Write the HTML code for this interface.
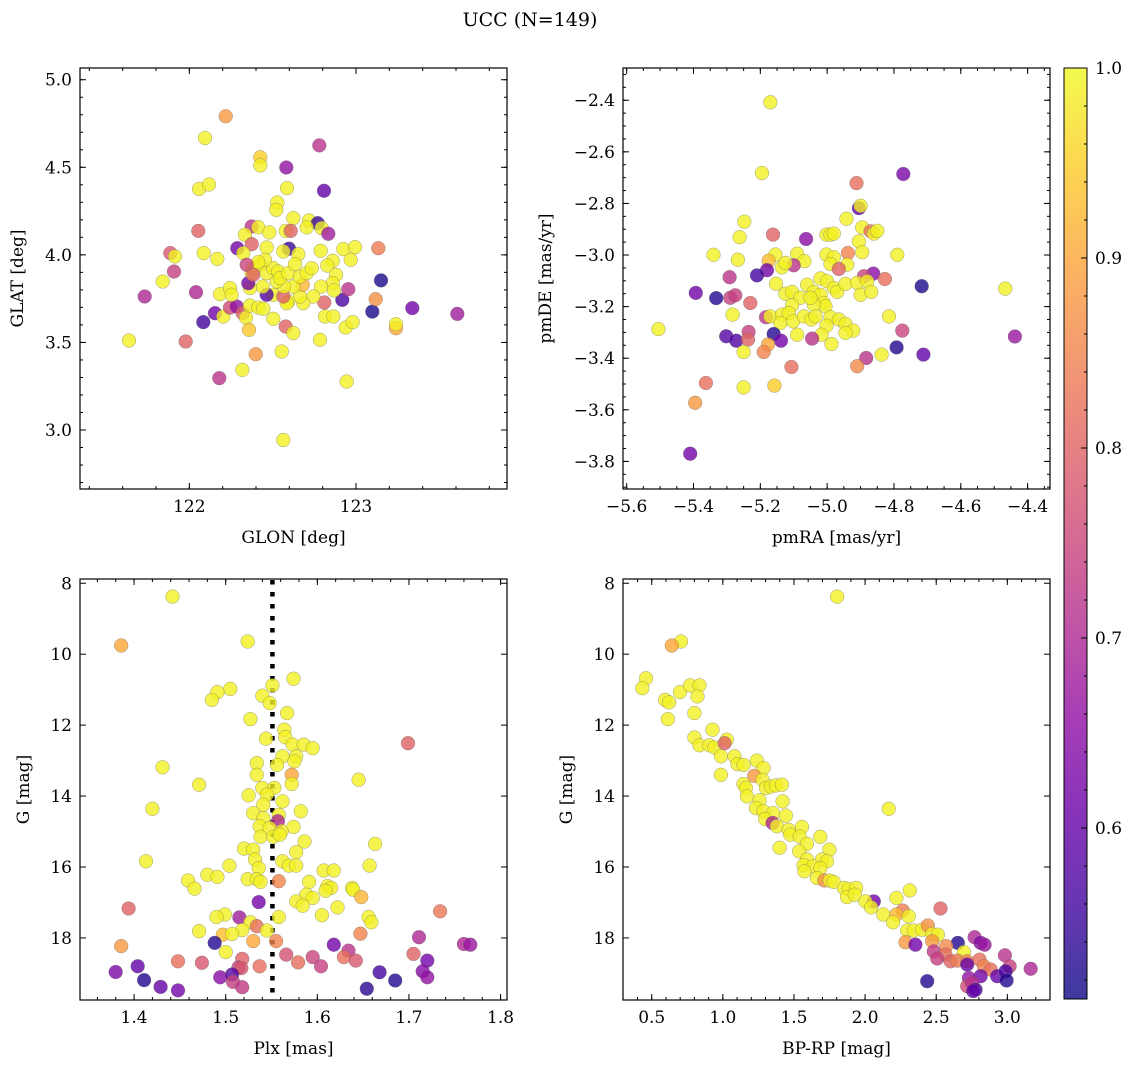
<!DOCTYPE html>
<html><head><meta charset="utf-8">
<style>
html,body{margin:0;padding:0;background:#fff;}
svg{display:block;font-family:"DejaVu Serif","Liberation Serif",serif;}
</style></head>
<body>
<svg id="fig" width="1136" height="1067" viewBox="0 0 1136 1067" xmlns="http://www.w3.org/2000/svg">
<defs>
<linearGradient id="plasma" x1="0" y1="1" x2="0" y2="0">
<stop offset="0" stop-color="#0d0887"/><stop offset="0.1" stop-color="#41049d"/><stop offset="0.2" stop-color="#6a00a8"/><stop offset="0.3" stop-color="#8f0da4"/><stop offset="0.4" stop-color="#b12a90"/><stop offset="0.5" stop-color="#cc4778"/><stop offset="0.6" stop-color="#e16462"/><stop offset="0.7" stop-color="#f2844b"/><stop offset="0.8" stop-color="#fca636"/><stop offset="0.9" stop-color="#fcce25"/><stop offset="1" stop-color="#f0f921"/>
</linearGradient>
</defs>
<text x="530" y="26" font-size="19" text-anchor="middle">UCC (N=149)</text>
</svg>
<script>
// Panel 1: GLON / GLAT
const p1Lon=[122.218,122.094,122.780,122.426,122.426,122.582,122.058,122.118,122.586,122.808,122.528,122.522,122.624,122.718,122.770,122.794,122.834,122.704,122.374,122.414,122.48,122.578,122.608,122.334,122.374,122.288,122.324,122.464,122.598,122.564,122.654,122.788,122.924,122.994,123.134,122.054,121.886,121.914,122.086,122.168,121.908,121.84,121.732,122.04,121.638,121.978,122.084,122.154,122.204,122.244,122.284,122.32,122.34,122.358,122.184,122.244,122.254,122.364,122.414,122.444,122.504,122.578,122.624,122.398,122.318,122.18,122.554,122.784,122.564,122.944,122.814,122.864,122.81,122.918,122.954,122.938,122.98,123.098,123.118,123.15,123.338,123.24,123.24,123.608,122.968,122.86,122.828,122.88,122.86,122.868,122.79,122.744,122.684,122.664,122.68,122.624,122.594,122.584,122.504,122.464,122.564,122.568,122.524,122.44,122.364,122.354,122.374,122.384,122.424,122.464,122.504,122.534,122.544,122.594,122.634,122.664,122.704,122.734,122.454,122.414,122.344,122.384];
const p1Lat=[4.791,4.667,4.625,4.557,4.511,4.499,4.376,4.402,4.381,4.366,4.299,4.257,4.210,4.196,4.181,4.153,4.120,4.157,4.162,4.158,4.128,4.137,4.137,4.115,4.061,4.038,4.010,4.042,4.035,4.019,4.004,4.023,4.033,4.044,4.038,4.137,4.010,3.991,4.010,3.977,3.905,3.848,3.762,3.787,3.511,3.505,3.616,3.667,3.648,3.699,3.705,3.667,3.642,3.572,3.776,3.810,3.772,3.711,3.699,3.692,3.635,3.591,3.553,3.433,3.343,3.296,3.448,3.515,2.943,3.277,3.648,3.648,3.728,3.743,3.804,3.585,3.616,3.676,3.747,3.854,3.696,3.581,3.604,3.663,3.972,3.966,3.939,3.886,3.838,3.797,3.819,3.762,3.724,3.762,3.829,3.819,3.734,3.724,3.772,3.772,3.762,3.819,3.848,3.819,3.810,3.838,3.896,3.924,3.943,3.896,3.924,3.905,3.867,3.896,3.947,3.876,3.896,3.924,3.972,3.958,3.943,3.886];
const p1Prob=[0.88,0.99,0.72,0.95,0.99,0.66,0.99,0.99,0.99,0.6,0.99,0.99,0.99,0.99,0.55,0.99,0.68,0.99,0.72,0.99,0.99,0.99,0.8,0.99,0.8,0.62,0.99,0.99,0.55,0.99,0.99,0.99,0.99,0.99,0.84,0.8,0.78,0.99,0.99,0.99,0.74,0.99,0.7,0.7,0.99,0.8,0.56,0.62,0.99,0.76,0.66,0.8,0.99,0.94,0.99,0.99,0.99,0.99,0.99,0.99,0.99,0.8,0.99,0.88,0.99,0.72,0.99,0.99,0.99,0.99,0.99,0.99,0.8,0.57,0.72,0.99,0.99,0.52,0.87,0.52,0.62,0.9,0.99,0.68,0.99,0.99,0.99,0.99,0.99,0.99,0.99,0.99,0.99,0.99,0.92,0.99,0.99,0.99,0.99,0.58,0.8,0.99,0.99,0.99,0.99,0.62,0.99,0.99,0.99,0.99,0.99,0.99,0.99,0.99,0.99,0.99,0.99,0.99,0.99,0.99,0.75,0.8];
const p1XTicks=[122,123];
const p1YTicks=[3.0,3.5,4.0,4.5,5.0];

// Panel 2: pmRA / pmDE
const p2Ra=[-5.17,-5.195,-4.772,-4.912,-4.905,-4.9,-4.942,-5.248,-5.262,-5.162,-5.063,-5.002,-4.99,-4.98,-4.895,-4.87,-4.86,-4.85,-4.905,-4.895,-4.938,-4.94,-4.79,-5.34,-5.267,-5.155,-5.09,-5.068,-5.002,-4.98,-4.99,-5.175,-5.18,-5.21,-5.1,-5.135,-5.125,-4.965,-4.862,-4.89,-4.827,-4.717,-4.467,-5.292,-5.393,-5.332,-5.29,-5.275,-5.23,-5.153,-5.125,-5.105,-5.08,-5.06,-5.04,-5.02,-5.0,-4.98,-4.97,-4.945,-4.91,-4.9,-4.88,-4.868,-5.02,-5.01,-5.005,-5.04,-5.05,-5.105,-5.283,-5.183,-5.17,-5.135,-5.115,-5.14,-5.102,-5.07,-5.047,-5.035,-4.99,-4.965,-4.945,-4.922,-4.945,-5.002,-5.017,-4.987,-5.09,-4.815,-4.775,-5.045,-5.302,-5.272,-5.235,-5.237,-5.16,-5.138,-5.177,-5.19,-5.25,-4.792,-4.712,-4.883,-4.837,-4.438,-5.505,-5.107,-4.91,-5.363,-5.25,-5.158,-5.395,-5.41];
const p2De=[-2.408,-2.682,-2.686,-2.721,-2.818,-2.809,-2.859,-2.871,-2.931,-2.921,-2.938,-2.921,-2.921,-2.917,-2.893,-2.908,-2.917,-2.906,-2.947,-2.989,-2.992,-3.037,-2.999,-2.999,-3.018,-2.998,-2.995,-3.024,-2.998,-3.009,-3.035,-3.022,-3.059,-3.079,-3.04,-3.048,-3.031,-3.054,-3.072,-3.082,-3.093,-3.121,-3.13,-3.086,-3.147,-3.167,-3.166,-3.156,-3.186,-3.111,-3.15,-3.143,-3.166,-3.115,-3.143,-3.091,-3.102,-3.128,-3.143,-3.112,-3.108,-3.154,-3.102,-3.143,-3.154,-3.186,-3.199,-3.192,-3.166,-3.195,-3.231,-3.241,-3.238,-3.231,-3.225,-3.263,-3.257,-3.238,-3.25,-3.238,-3.241,-3.25,-3.267,-3.293,-3.302,-3.274,-3.309,-3.345,-3.309,-3.238,-3.293,-3.324,-3.315,-3.332,-3.298,-3.328,-3.306,-3.332,-3.347,-3.376,-3.376,-3.358,-3.386,-3.399,-3.386,-3.316,-3.287,-3.434,-3.431,-3.496,-3.513,-3.506,-3.573,-3.77];
const p2Prob=[0.99,0.99,0.63,0.82,0.6,0.99,0.99,0.99,0.99,0.8,0.65,0.99,0.99,0.99,0.99,0.82,0.99,0.99,0.99,0.99,0.85,0.99,0.99,0.99,0.99,0.99,0.99,0.99,0.99,0.99,0.99,0.93,0.62,0.56,0.72,0.99,0.99,0.8,0.65,0.75,0.82,0.52,0.99,0.72,0.62,0.53,0.74,0.74,0.8,0.99,0.99,0.99,0.99,0.99,0.99,0.99,0.99,0.99,0.99,0.99,0.99,0.99,0.99,0.99,0.99,0.99,0.99,0.99,0.99,0.99,0.99,0.72,0.99,0.99,0.99,0.99,0.99,0.99,0.99,0.99,0.99,0.99,0.99,0.99,0.99,0.99,0.99,0.99,0.99,0.99,0.75,0.72,0.58,0.58,0.74,0.8,0.53,0.62,0.9,0.85,0.99,0.53,0.6,0.72,0.99,0.67,0.99,0.82,0.86,0.82,0.99,0.95,0.88,0.62];
const p2XTicks=[-5.6,-5.4,-5.2,-5.0,-4.8,-4.6,-4.4];
const p2YTicks=[-3.8,-3.6,-3.4,-3.2,-3.0,-2.8,-2.6,-2.4];

// Panel 3: Plx / G
const p3Plx=[1.442,1.386,1.524,1.574,1.551,1.505,1.491,1.485,1.540,1.548,1.567,1.527,1.564,1.565,1.544,1.573,1.585,1.595,1.699,1.562,1.577,1.575,1.556,1.534,1.431,1.572,1.534,1.572,1.471,1.645,1.540,1.553,1.545,1.525,1.562,1.541,1.420,1.530,1.582,1.558,1.541,1.557,1.574,1.537,1.548,1.561,1.538,1.552,1.559,1.586,1.663,1.520,1.530,1.577,1.413,1.532,1.562,1.504,1.536,1.569,1.577,1.657,1.607,1.618,1.480,1.491,1.524,1.534,1.538,1.558,1.591,1.459,1.466,1.611,1.615,1.609,1.638,1.639,1.648,1.588,1.595,1.577,1.584,1.536,1.622,1.394,1.734,1.605,1.499,1.490,1.515,1.558,1.656,1.659,1.527,1.534,1.518,1.471,1.545,1.497,1.507,1.647,1.711,1.386,1.530,1.555,1.488,1.618,1.760,1.767,1.500,1.566,1.634,1.705,1.518,1.595,1.629,1.642,1.720,1.448,1.579,1.474,1.537,1.604,1.404,1.514,1.517,1.380,1.668,1.715,1.494,1.507,1.720,1.411,1.685,1.508,1.429,1.518,1.654,1.448];
const p3G=[8.375,9.756,9.643,10.69,10.88,10.98,11.07,11.29,11.17,11.38,11.66,11.83,12.13,12.34,12.38,12.55,12.55,12.65,12.51,12.88,12.88,13.02,13.12,13.07,13.19,13.4,13.4,13.66,13.68,13.54,13.77,13.77,13.96,13.98,14.15,14.24,14.36,14.48,14.43,14.53,14.62,14.71,14.87,14.85,14.9,14.99,15.15,15.15,15.09,15.28,15.35,15.48,15.51,15.58,15.84,15.79,15.84,15.96,16.03,15.96,15.96,15.96,16.1,16.1,16.22,16.28,16.34,16.34,16.42,16.4,16.42,16.38,16.61,16.54,16.59,16.67,16.59,16.64,16.85,16.78,16.87,16.97,17.09,16.99,17.14,17.17,17.25,17.36,17.34,17.41,17.42,17.41,17.41,17.56,17.56,17.67,17.78,17.81,17.79,17.91,17.89,17.88,17.98,18.23,18.09,18.09,18.14,18.19,18.17,18.19,18.4,18.47,18.36,18.45,18.59,18.54,18.54,18.64,18.64,18.66,18.69,18.7,18.8,18.8,18.8,18.83,18.85,18.96,18.97,18.94,19.11,19.03,19.11,19.19,19.2,19.24,19.38,19.39,19.43,19.48];
const p3Prob=[0.99,0.9,0.99,0.99,0.99,0.99,0.99,0.99,0.99,0.99,0.99,0.99,0.99,0.99,0.99,0.99,0.99,0.99,0.8,0.99,0.99,0.99,0.99,0.99,0.99,0.9,0.99,0.99,0.99,0.99,0.99,0.99,0.99,0.99,0.99,0.99,0.99,0.99,0.99,0.99,0.99,0.7,0.99,0.99,0.99,0.99,0.99,0.99,0.99,0.99,0.99,0.99,0.99,0.99,0.99,0.99,0.99,0.99,0.99,0.99,0.99,0.99,0.99,0.99,0.99,0.99,0.99,0.99,0.99,0.85,0.99,0.99,0.99,0.99,0.99,0.99,0.99,0.99,0.92,0.99,0.99,0.99,0.99,0.62,0.99,0.8,0.83,0.99,0.99,0.99,0.68,0.99,0.99,0.99,0.99,0.82,0.99,0.99,0.99,0.93,0.99,0.85,0.7,0.88,0.9,0.85,0.53,0.62,0.7,0.67,0.99,0.77,0.72,0.8,0.8,0.75,0.82,0.78,0.62,0.82,0.82,0.78,0.82,0.74,0.6,0.74,0.78,0.63,0.56,0.64,0.65,0.58,0.66,0.53,0.53,0.74,0.6,0.73,0.54,0.62];
const p3XTicks=[1.4,1.5,1.6,1.7,1.8];
const p3YTicks=[8,10,12,14,16,18];
const p3PlxMedian=1.551;

// Panel 4: BP-RP / G
const p4Col=[1.803,0.706,0.641,0.460,0.434,0.699,0.770,0.836,0.822,0.594,0.622,0.613,0.800,0.927,0.800,0.836,0.904,0.941,1.028,1.012,0.986,1.082,1.103,1.145,1.239,1.286,0.986,1.221,1.279,1.145,1.162,1.303,1.338,1.373,1.415,1.169,1.258,1.420,1.232,1.286,1.352,1.443,1.298,1.350,1.380,1.462,1.556,1.474,1.540,1.685,1.591,1.399,1.749,1.537,1.697,1.591,1.732,1.568,1.634,1.685,1.573,1.662,1.714,1.751,1.779,1.850,1.885,1.937,1.873,1.927,2.166,2.314,2.220,2.061,2.002,2.042,2.530,2.127,2.265,2.220,2.307,2.197,2.296,2.343,2.401,2.441,2.472,2.512,2.284,2.354,2.472,2.652,2.770,2.812,2.840,2.570,2.483,2.695,2.565,2.507,2.601,2.648,2.718,2.805,2.983,3.016,2.836,2.883,2.718,3.164,2.929,2.988,2.812,2.730,2.995,2.437,2.718,2.753,2.777,2.760];
const p4G=[8.375,9.643,9.756,10.68,10.96,11.07,10.88,10.88,11.19,11.29,11.36,11.83,11.66,12.13,12.35,12.57,12.57,12.63,12.41,12.51,12.88,12.88,13.1,13.12,13.0,13.21,13.4,13.43,13.54,13.66,13.77,13.77,13.73,13.7,13.68,14.01,14.12,14.15,14.34,14.43,14.48,14.55,14.65,14.76,14.85,14.95,14.87,15.09,15.14,15.15,15.35,15.46,15.51,15.56,15.79,15.79,15.84,15.95,15.98,16.03,16.12,16.31,16.38,16.38,16.42,16.59,16.62,16.59,16.85,16.78,14.36,16.66,16.87,16.97,16.97,17.14,17.17,17.34,17.23,17.34,17.39,17.56,17.79,17.79,17.77,17.65,17.89,17.91,18.12,18.19,18.09,18.14,17.98,18.14,18.19,18.23,18.38,18.4,18.47,18.58,18.66,18.64,18.66,18.61,18.49,18.8,18.8,18.89,18.75,18.87,19.08,18.94,19.08,19.13,19.2,19.22,19.36,19.27,19.46,19.5];
const p4Prob=[0.99,0.99,0.9,0.99,0.99,0.99,0.99,0.99,0.99,0.99,0.99,0.99,0.99,0.99,0.99,0.99,0.99,0.99,0.99,0.8,0.99,0.99,0.99,0.99,0.99,0.99,0.99,0.88,0.99,0.99,0.99,0.99,0.99,0.99,0.99,0.99,0.99,0.99,0.99,0.99,0.99,0.99,0.99,0.7,0.99,0.99,0.99,0.99,0.99,0.99,0.99,0.99,0.99,0.99,0.99,0.99,0.99,0.99,0.99,0.99,0.99,0.99,0.87,0.99,0.99,0.99,0.99,0.99,0.99,0.99,0.99,0.99,0.99,0.62,0.99,0.99,0.8,0.99,0.84,0.92,0.99,0.99,0.99,0.99,0.99,0.87,0.99,0.99,0.88,0.62,0.88,0.53,0.7,0.64,0.67,0.86,0.73,0.99,0.82,0.74,0.8,0.84,0.85,0.82,0.72,0.74,0.85,0.82,0.6,0.7,0.6,0.57,0.62,0.66,0.53,0.53,0.76,0.72,0.57,0.6];
const p4XTicks=[0.5,1.0,1.5,2.0,2.5,3.0];
const p4YTicks=[8,10,12,14,16,18];

const cbTicks=[0.6,0.7,0.8,0.9,1.0];
const vmin=0.51, vmax=1.0;

const NS="http://www.w3.org/2000/svg";
const svg=document.getElementById('fig');
function mk(tag,attrs,parent){const e=document.createElementNS(NS,tag);for(const k in attrs)e.setAttribute(k,attrs[k]);(parent||svg).appendChild(e);return e;}
const stops=[[13,8,135],[65,4,157],[106,0,168],[143,13,164],[177,42,144],[204,71,120],[225,100,98],[242,132,75],[252,166,54],[252,206,37],[240,249,33]];
function plasma(v){let t=(v-vmin)/(vmax-vmin);t=Math.max(0,Math.min(1,t))*10;const i=Math.min(9,Math.floor(t)),f=t-i;const a=stops[i],b=stops[i+1];return 'rgb('+a.map((c,j)=>Math.round(c+(b[j]-c)*f)).join(',')+')';}
function fmt(v,d){const s=Math.abs(v).toFixed(d);return (v<0?'\u2212':'')+s;}

function panel(o){
  const g=mk('g',{});
  
  
  const sx=v=>o.L+(v-o.x0)/(o.x1-o.x0)*(o.R-o.L);
  const sy=v=>o.B-(v-o.y0)/(o.y1-o.y0)*(o.B-o.T);
  if(o.vline!==undefined){
    const ln=mk('line',{x1:sx(o.vline),x2:sx(o.vline),y1:o.T+1,y2:o.B,stroke:'#000','stroke-width':4.5,'stroke-dasharray':'4.5 7.5'},g);
    
    
  }
  const cp=mk('g',{},g);
  
  
  for(let i=0;i<o.xs.length;i++){
    const c=mk('circle',{cx:sx(o.xs[i]).toFixed(1),cy:sy(o.ys[i]).toFixed(1),r:6.9,fill:plasma(o.ps[i]),'fill-opacity':0.8,stroke:'#666','stroke-opacity':0.6,'stroke-width':0.5},cp);
    
    
  }
  const fr=mk('rect',{x:o.L,y:o.T,width:o.R-o.L,height:o.B-o.T,fill:'none',stroke:'#000','stroke-width':1.2},g);
  
  
  const tk=mk('g',{stroke:'#000','stroke-width':1},g);
  
  
  for(let v=Math.ceil(o.x0/o.xm-1e-6)*o.xm; v<=o.x1+1e-9; v+=o.xm){
    const X=sx(v); if(X<o.L+0.5||X>o.R-0.5)continue;
    mk('line',{x1:X,x2:X,y1:o.B,y2:o.B-3},tk);mk('line',{x1:X,x2:X,y1:o.T,y2:o.T+3},tk);
  }
  for(let v=Math.ceil(o.y0/o.ym-1e-6)*o.ym; v<=o.y1+1e-9; v+=o.ym){
    const Y=sy(v); if(Y<o.T+0.5||Y>o.B-0.5)continue;
    mk('line',{x1:o.L,x2:o.L+3,y1:Y,y2:Y},tk);mk('line',{x1:o.R,x2:o.R-3,y1:Y,y2:Y},tk);
  }
  o.xt.forEach(v=>{
    const X=sx(v);
    mk('line',{x1:X,x2:X,y1:o.B,y2:o.B-6},tk);mk('line',{x1:X,x2:X,y1:o.T,y2:o.T+6},tk);
    const t=mk('text',{x:X,y:o.B+23,'font-size':17,'text-anchor':'middle'},g);
    t.textContent=fmt(v,o.xd);
    
    
  });
  o.yt.forEach(v=>{
    const Y=sy(v);
    mk('line',{x1:o.L,x2:o.L+6,y1:Y,y2:Y},tk);mk('line',{x1:o.R,x2:o.R-6,y1:Y,y2:Y},tk);
    const t=mk('text',{x:o.L-8,y:Y+6,'font-size':17,'text-anchor':'end'},g);
    t.textContent=fmt(v,o.yd);
    
    
  });
  const xl=mk('text',{x:(o.L+o.R)/2,y:o.B+54,'font-size':17,'text-anchor':'middle'},g);
  xl.textContent=o.xlab;
  
  
  const yx=o.ylx, yy=(o.T+o.B)/2;
  const yl=mk('text',{x:yx,y:yy,'font-size':17,'text-anchor':'middle',transform:'rotate(-90 '+yx+' '+yy+')'},g);
  yl.textContent=o.ylab;
  
  
}

panel({name:'glon-glat-panel',L:80,R:507,T:68,B:489,x0:121.344,x1:123.906,y0:2.663,y1:5.067,xs:p1Lon,ys:p1Lat,ps:p1Prob,xt:p1XTicks,yt:p1YTicks,xm:0.2,ym:0.1,xd:0,yd:1,xlab:'GLON [deg]',ylab:'GLAT [deg]',ylx:23});
panel({name:'proper-motion-panel',L:623,R:1050,T:68,B:489,x0:-5.611,x1:-4.333,y0:-3.907,y1:-2.275,xs:p2Ra,ys:p2De,ps:p2Prob,xt:p2XTicks,yt:p2YTicks,xm:0.05,ym:0.05,xd:1,yd:1,xlab:'pmRA [mas/yr]',ylab:'pmDE [mas/yr]',ylx:551});
panel({name:'plx-g-panel',L:80,R:507,T:579,B:1000,x0:1.341,x1:1.807,y0:19.75,y1:7.88,xs:p3Plx,ys:p3G,ps:p3Prob,xt:p3XTicks,yt:p3YTicks,xm:0.02,ym:0.5,xd:1,yd:0,xlab:'Plx [mas]',ylab:'G [mag]',ylx:29,vline:p3PlxMedian});
panel({name:'cmd-panel',L:623,R:1050,T:579,B:1000,x0:0.298,x1:3.30,y0:19.75,y1:7.88,xs:p4Col,ys:p4G,ps:p4Prob,xt:p4XTicks,yt:p4YTicks,xm:0.1,ym:0.5,xd:1,yd:0,xlab:'BP-RP [mag]',ylab:'G [mag]',ylx:572});

(function(){
  const L=1064,R=1087,T=68,B=999;
  const g=mk('g',{});
  
  
  mk('rect',{x:L,y:T,width:R-L,height:B-T,fill:'url(#plasma)','fill-opacity':0.8},g);
  mk('rect',{x:L,y:T,width:R-L,height:B-T,fill:'none',stroke:'#000','stroke-width':1},g);
  const sy=v=>B-(v-vmin)/(vmax-vmin)*(B-T);
  for(let v=0.52;v<vmax-0.001;v+=0.02){const Y=sy(v);mk('line',{x1:R,x2:R-3,y1:Y,y2:Y,stroke:'#000'},g);}
  cbTicks.forEach(v=>{
    const Y=sy(v);
    mk('line',{x1:R,x2:R-6,y1:Y,y2:Y,stroke:'#000'},g);
    const t=mk('text',{x:R+8,y:Y+6,'font-size':17},g);
    t.textContent=v.toFixed(1);
    
    
  });
})();
</script>
</body></html>
